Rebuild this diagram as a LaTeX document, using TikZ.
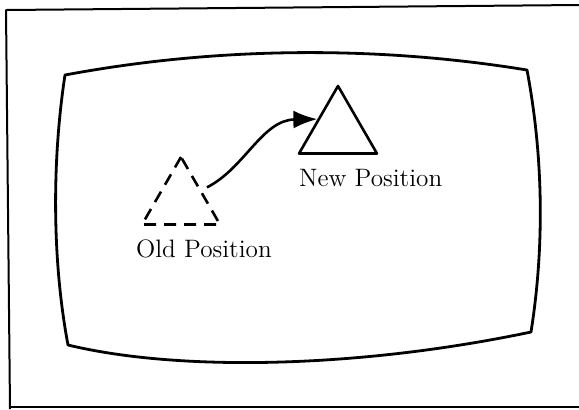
\documentclass[tikz,border=0pt]{standalone}
\usetikzlibrary{positioning, arrows.meta, shapes.geometric}

\tikzset{
  tri/.style={regular polygon, regular polygon sides=3, draw, inner sep=0pt,
    minimum size=45pt, line width=1.3pt},
  poslabel/.style={font=\fontsize{12.6}{15}\selectfont, inner sep=0pt},
}

\begin{document}
\begin{tikzpicture}[x=0.5pt, y=-0.5pt, line join=round]
    \useasboundingbox (0,0) rectangle (579,409);
    % Outer frame (open on the right)
    \draw[line width=1pt] (579,5) -- (6,10) -- (10,409);
    \draw[line width=1pt] (10,407) -- (579,407);
    % Screen outline
    \draw[line width=1.4pt] (65,75) .. controls (220,46) and (380,46) .. (527,70)
        .. controls (544,160) and (544,250) .. (531,332)
        .. controls (360,368) and (180,372) .. (68,345)
        .. controls (52,260) and (52,160) .. cycle;
    % Old and new triangle
    \node[tri, dash pattern=on 6pt off 4pt] (old) at (181,202) {};
    \node[tri] (new) at (338,131) {};
    \node[poslabel, below right=7pt and -2pt of old.corner 2] (oldlabel) {Old Position};
    \node[poslabel, below right=7pt and 1pt of new.corner 2] (newlabel) {New Position};
    % Move
    \draw[line width=1.3pt, shorten <=3pt, -{Latex[length=12pt, width=9pt]}]
        (old.side 3) .. controls (245,168) and (262,120) .. (new.side 1);
\end{tikzpicture}
\end{document}
